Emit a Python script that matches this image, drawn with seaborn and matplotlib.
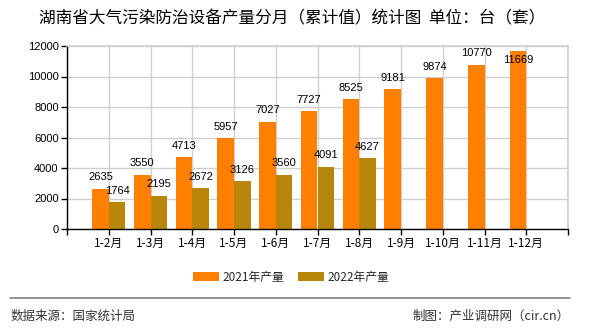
import matplotlib
matplotlib.use("Agg")
import matplotlib.pyplot as plt
import seaborn as sns
import pandas as pd
import numpy as np

categories = ["1-2月", "1-3月", "1-4月", "1-5月", "1-6月", "1-7月", "1-8月",
              "1-9月", "1-10月", "1-11月", "1-12月"]
values_2021 = [2635, 3550, 4713, 5957, 7027, 7727, 8525, 9181, 9874, 10770, 11669]
values_2022 = [1764, 2195, 2672, 3126, 3560, 4091, 4627, None, None, None, None]
series_names = ["2021年产量", "2022年产量"]
colors = ["#FF8000", "#B8860B"]
yticks = [0, 2000, 4000, 6000, 8000, 10000, 12000]

sns.set_theme(style="white")
plt.rcParams['font.family'] = ['Noto Sans CJK SC', 'DejaVu Sans']

rows = []
for c, a, b in zip(categories, values_2021, values_2022):
    rows.append({"cat": c, "series": series_names[0], "val": a})
    rows.append({"cat": c, "series": series_names[1], "val": np.nan if b is None else b})
df = pd.DataFrame(rows)

fig = plt.figure(figsize=(5.9, 3.3), dpi=100)
ax = fig.add_axes([67/590, 101/330, 501/590, 183/330])

sns.barplot(data=df, x="cat", y="val", hue="series", order=categories,
            hue_order=series_names, palette=colors, ax=ax, width=0.8,
            saturation=1, errorbar=None, legend=True, linewidth=0)

ax.set_xlim(-1, 11)
ax.set_ylim(0, 12000)
ax.set_yticks(yticks)
ax.set_yticklabels([str(v) for v in yticks], fontsize=8, family=["Liberation Sans"])
ax.set_xticks(range(-1, 12))
ax.set_xticklabels([""] + categories + [""], fontsize=8.5)
ax.set_xlabel("")
ax.set_ylabel("")
ax.grid(True, color="#d0d0d0", linewidth=1)
ax.set_axisbelow(True)
for s in ["top", "right"]:
    ax.spines[s].set_color("#d0d0d0")
for s in ["left", "bottom"]:
    ax.spines[s].set_color("black")
    ax.spines[s].set_linewidth(1)
ax.tick_params(axis="both", length=4, width=1, color="black", pad=2,
               bottom=True, left=True, labelcolor="black")

# labels (moved inside the bar when they would leave the plot area)
ymax = ax.get_ylim()[1]
for cont, vals in zip(ax.containers, [values_2021, values_2022]):
    for bar, v in zip(cont, vals):
        if v is None:
            continue
        x = bar.get_x() + bar.get_width() / 2
        if v + 1000 > ymax:
            ax.text(x, v - 250, str(v), ha="center", va="top", fontsize=8,
                    color="black", family=["Liberation Sans"], zorder=5)
        else:
            ax.text(x, v + 420, str(v), ha="center", va="bottom", fontsize=8,
                    color="black", family=["Liberation Sans"], zorder=5)

ax.get_legend().remove()
handles, labels = ax.get_legend_handles_labels()
fig.legend(handles, labels, loc="center", bbox_to_anchor=(291/590, 1 - 277/330),
           ncol=2, frameon=False, fontsize=8.5, handlelength=2.2,
           handleheight=0.8, columnspacing=1.2, handletextpad=0.3)

fig.text(292/590, 1 - 19/330, "湖南省大气污染防治设备产量分月（累计值）统计图  单位：台（套）",
         ha="center", va="center", fontsize=12, color="black")
fig.add_artist(plt.Line2D([10/590, 570/590], [1 - 298/330, 1 - 298/330],
                          color="#808080", linewidth=1.2))
fig.text(11/590, 1 - 316/330, "数据来源：国家统计局", ha="left", va="center",
         fontsize=9, color="#333333")
fig.text(570/590, 1 - 316/330, "制图：产业调研网（cir.cn）", ha="right", va="center",
         fontsize=9, color="#333333")

fig.savefig("out.png", dpi=100)
